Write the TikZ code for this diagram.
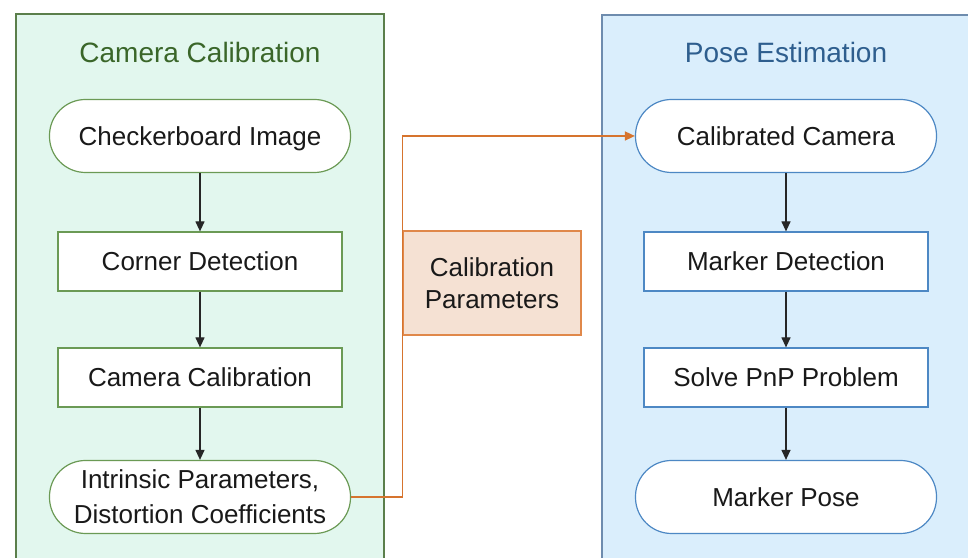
\documentclass[tikz,border=0pt]{standalone}
\usepackage{fontspec}
\setmainfont{Liberation Sans}
\usetikzlibrary{arrows.meta,positioning,calc}

\definecolor{calfill}{HTML}{E2F7EE}
\definecolor{calborder}{HTML}{5B7F4B}
\definecolor{caltitle}{HTML}{3A6629}
\definecolor{calnode}{HTML}{6B9A55}
\definecolor{posefill}{HTML}{DAEEFC}
\definecolor{poseborder}{HTML}{6E8CAE}
\definecolor{posetitle}{HTML}{2E5E8E}
\definecolor{posenode}{HTML}{4D88C4}
\definecolor{parfill}{HTML}{F5E1D3}
\definecolor{parborder}{HTML}{E0884A}
\definecolor{parline}{HTML}{D6742E}

\tikzset{
  txt/.style={font=\fontsize{13bp}{16bp}\selectfont, text=black!90},
  oneline/.style={text height=9.3bp, text depth=0bp},
  term/.style={txt, draw, fill=white, line width=0.6bp, rounded corners=18bp,
    minimum width=150.5bp, minimum height=36.5bp, align=center, inner sep=0pt},
  proc/.style={txt, oneline, draw, fill=white, line width=0.6bp,
    minimum width=142bp, minimum height=29.5bp, inner sep=0pt},
  paneltitle/.style={font=\fontsize{14bp}{16bp}\selectfont},
  flow/.style={-{Triangle[length=5bp,width=4.5bp]}, line width=0.6bp, black!85},
}

\begin{document}
\begin{tikzpicture}[x=0.5bp,y=0.5bp]
\useasboundingbox (0,0) rectangle (968,558);
\clip (0,0) rectangle (968,558);
% ---- pannello sinistro: calibrazione ----
\begin{scope}
  \draw[fill=calfill,draw=calborder,line width=0.7bp] (16,544) rectangle (384,-10);
  \node[paneltitle,text=caltitle] (caltit) at (200,505) {Camera Calibration};
  \node[term,oneline,draw=calnode] (chk) at (200,422) {Checkerboard Image};
  \node[proc,draw=calnode] (corner) at (200,296.5) {Corner Detection};
  \node[proc,draw=calnode] (camcal) at (200,180.5) {Camera Calibration};
  \node[term,draw=calnode,font=\fontsize{13bp}{17.5bp}\selectfont] (intr) at (200,61)
    {Intrinsic Parameters,\\Distortion Coefficients};
  \draw[flow] (chk) -- (corner);
  \draw[flow] (corner) -- (camcal);
  \draw[flow] (camcal) -- (intr);
\end{scope}
% ---- pannello destro: stima della posa ----
\begin{scope}
  \draw[fill=posefill,draw=poseborder,line width=0.7bp] (602,543) rectangle (990,-10);
  \node[paneltitle,text=posetitle] (posetit) at (786,505) {Pose Estimation};
  \node[term,oneline,draw=posenode] (calcam) at (786,422) {Calibrated Camera};
  \node[proc,draw=posenode] (mdet) at (786,296.5) {Marker Detection};
  \node[proc,draw=posenode] (pnp) at (786,180.5) {Solve PnP Problem};
  \node[term,oneline,draw=posenode] (mpose) at (786,61) {Marker Pose};
  \draw[flow] (calcam) -- (mdet);
  \draw[flow] (mdet) -- (pnp);
  \draw[flow] (pnp) -- (mpose);
\end{scope}
% ---- parametri passati da un pannello all'altro ----
\node[txt,draw=parborder,fill=parfill,line width=0.7bp,align=center,
  minimum width=89bp,minimum height=52bp,inner sep=0pt] (cpar) at (492,275)
  {Calibration\\Parameters};
\draw[parline,line width=0.8bp,-{Triangle[length=5bp,width=4.5bp]}]
  (intr.east) -- (intr.east -| cpar.west) |- (calcam.west);
\end{tikzpicture}
\end{document}
